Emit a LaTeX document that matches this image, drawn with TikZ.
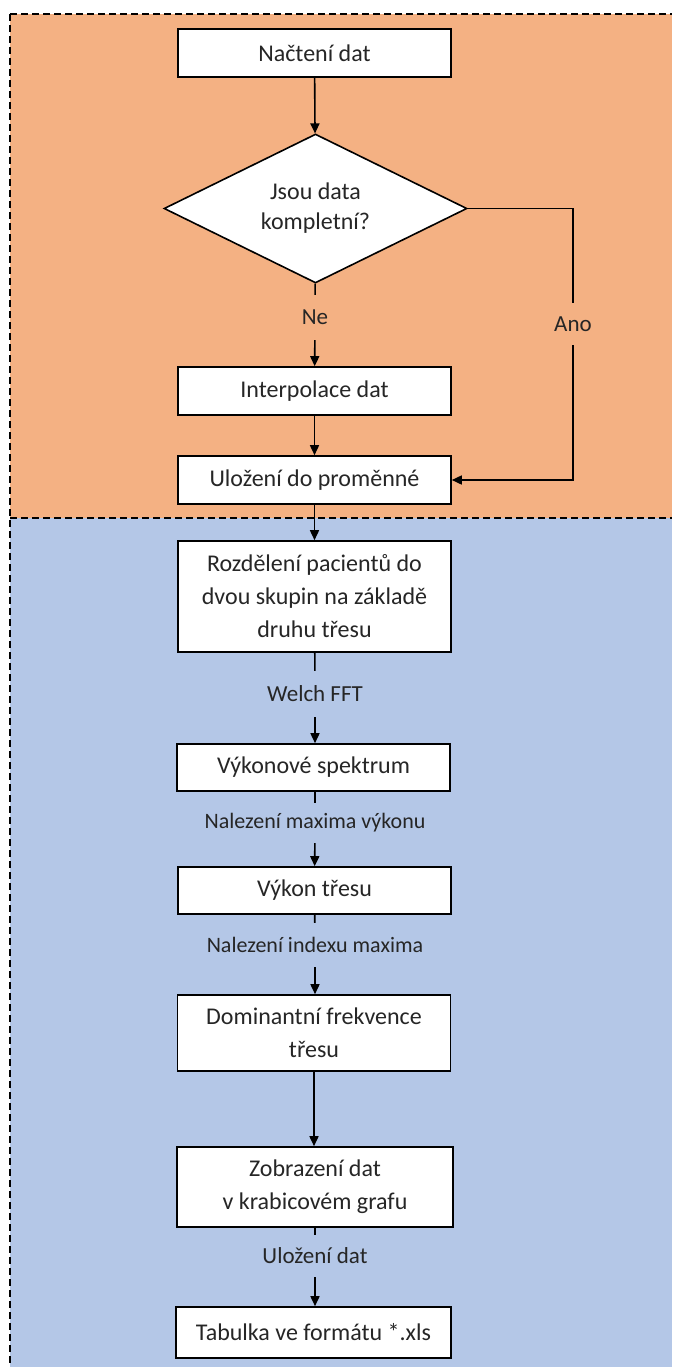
\documentclass[tikz,border=0pt]{standalone}
\usepackage{fontspec}
\setmainfont{Carlito}
\usetikzlibrary{shapes.geometric,arrows.meta}
\definecolor{bgorange}{HTML}{F4B183}
\definecolor{bgblue}{HTML}{B4C7E7}
\definecolor{txtgray}{HTML}{262626}
\tikzset{
  procbox/.style={draw=black, fill=white, line width=1.6pt, minimum width=273pt, inner sep=0pt, align=center, font=\fontsize{24}{33}\selectfont, text=txtgray},
  decbox/.style={draw=black, fill=white, line width=1.6pt, shape=diamond, aspect=2, minimum width=303pt, minimum height=149pt, inner sep=0pt, align=center, font=\fontsize{24}{30}\selectfont, text=txtgray},
  elabel/.style={inner sep=0pt, font=\fontsize{23}{28}\selectfont, text=txtgray},
  conn/.style={line width=1.6pt, draw=black},
  arr/.style={conn, -{Triangle[length=10pt,width=9pt]}},
  border/.style={line width=1.5pt, dash pattern=on 7pt off 4pt}
}
\begin{document}
\begin{tikzpicture}[x=1pt,y=1pt]
\useasboundingbox (0,0) rectangle (672,-1367);
\fill[white] (0,0) rectangle (672,-1367);
\fill[bgorange] (10,-14) rectangle (672,-518);
\fill[bgblue] (10,-518) rectangle (672,-1367);
\draw[border] (10,-14) -- (672,-14);
\draw[border] (10,-518) -- (672,-518);
\draw[border] (10,-14) -- (10,-1367);

\node[procbox, minimum height=48pt] (n1) at (314.5,-53) {Načtení dat};
\node[decbox] (n2) at (315.5,-208.5) {Jsou data\\kompletní?};
\node[elabel, minimum height=45pt] (lne) at (315,-317.5) {Ne};
\node[procbox, minimum height=48pt] (n3) at (314.5,-391) {Interpolace dat};
\node[elabel, minimum height=42pt] (lano) at (573,-324) {Ano};
\node[procbox, minimum height=48pt] (n4) at (314.5,-480) {Uložení do proměnné};
\node[procbox, minimum height=111pt] (n5) at (314.5,-596.5) {Rozdělení pacientů do\\dvou skupin na základě\\druhu třesu};
\node[elabel, minimum height=46pt] (lwelch) at (315,-694) {Welch FFT};
\node[procbox, minimum height=47pt] (n6) at (313.5,-767.5) {Výkonové spektrum};
\node[elabel, minimum height=40pt, font=\fontsize{22}{26}\selectfont] (lmax) at (315,-823) {Nalezení maxima výkonu};
\node[procbox, minimum height=47pt] (n7) at (314.5,-890.5) {Výkon třesu};
\node[elabel, minimum height=44pt, font=\fontsize{22}{26}\selectfont] (lidx) at (315,-945) {Nalezení indexu maxima};
\node[procbox, minimum height=76pt] (n8) at (314,-1033) {Dominantní frekvence\\třesu};
\node[procbox, minimum height=80pt, minimum width=276pt] (n9) at (315,-1187) {Zobrazení dat\\v krabicovém grafu};
\node[elabel, minimum height=42pt] (lsave) at (315,-1256) {Uložení dat};
\node[procbox, minimum height=51pt, minimum width=275pt] (n10) at (313.5,-1332.5) {Tabulka ve formátu *.xls};

\draw[arr] (n1) -- (n2);
\draw[conn] (n2) -- (lne);
\draw[arr] (lne) -- (n3);
\draw[arr] (n3) -- (n4);
\draw[conn] (n2.east) -| (lano.north);
\draw[arr] (lano.south) |- (n4.east);
\draw[arr] (n4) -- (n5);
\draw[conn] (n5) -- (lwelch);
\draw[arr] (lwelch) -- (lwelch |- n6.north);
\draw[conn] (lmax |- n6.south) -- (lmax);
\draw[arr] (lmax) -- (n7);
\draw[conn] (n7) -- (lidx);
\draw[arr] (lidx) -- (lidx |- n8.north);
\draw[arr] (n8) -- (n8 |- n9.north);
\draw[conn] (lsave |- n9.south) -- (lsave);
\draw[arr] (lsave) -- (lsave |- n10.north);
\end{tikzpicture}
\end{document}
